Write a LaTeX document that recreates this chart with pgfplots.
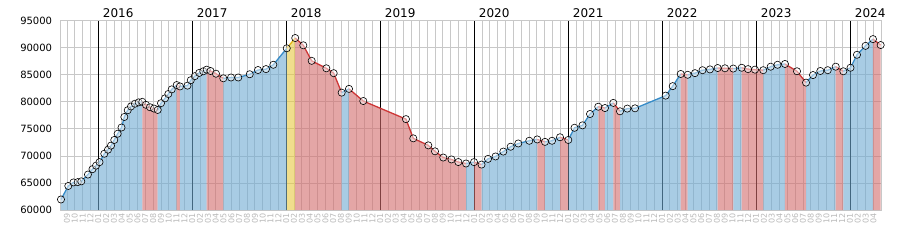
\documentclass[border=0pt]{standalone}
\usepackage{fontspec}
\setmainfont{DejaVu Sans}
\usepackage{pgfplots}
\usepackage{pgfplotstable}
\pgfplotsset{compat=1.18}
\definecolor{fillB}{RGB}{110,170,210}
\definecolor{fillR}{RGB}{210,107,107}
\definecolor{fillY}{RGB}{230,200,63}
\definecolor{lineB}{RGB}{55,140,200}
\definecolor{lineR}{RGB}{205,55,55}
\definecolor{lineY}{RGB}{225,180,20}
\definecolor{gridc}{RGB}{200,200,200}
\definecolor{monc}{RGB}{185,185,185}
\pgfplotstableread{
x y
2015.603 61950
2015.681 64450
2015.736 65100
2015.781 65150
2015.819 65300
2015.890 66550
2015.938 67550
2015.976 68200
2016.013 68850
2016.064 70400
2016.103 71150
2016.135 71900
2016.170 72950
2016.206 74100
2016.247 75250
2016.277 77200
2016.313 78450
2016.348 79150
2016.390 79650
2016.430 79900
2016.468 80000
2016.507 79450
2016.550 79000
2016.593 78750
2016.632 78500
2016.667 79750
2016.710 80650
2016.745 81450
2016.781 82300
2016.834 83100
2016.869 82850
2016.949 83000
2016.984 84000
2017.027 84750
2017.074 85350
2017.117 85650
2017.153 85950
2017.194 85700
2017.252 85200
2017.330 84350
2017.412 84500
2017.489 84500
2017.611 85100
2017.699 85880
2017.784 86050
2017.862 86850
2018.005 89900
2018.095 91800
2018.181 90450
2018.270 87580
2018.426 86200
2018.504 85300
2018.589 81700
2018.667 82400
2018.819 80150
2019.273 76800
2019.351 73250
2019.511 71950
2019.582 70850
2019.670 69700
2019.757 69350
2019.830 68870
2019.912 68600
2019.997 68850
2020.077 68400
2020.146 69450
2020.226 69900
2020.309 70800
2020.387 71700
2020.468 72300
2020.585 72800
2020.670 73050
2020.752 72600
2020.827 72800
2020.912 73450
2021.000 72950
2021.066 75200
2021.151 75650
2021.231 77750
2021.319 79100
2021.390 78850
2021.479 79800
2021.550 78250
2021.628 78750
2021.710 78800
2022.036 81150
2022.111 82900
2022.196 85150
2022.270 85000
2022.348 85300
2022.428 85850
2022.507 86000
2022.589 86250
2022.667 86200
2022.755 86150
2022.845 86300
2022.912 86050
2022.986 85950
2023.074 85850
2023.153 86500
2023.226 86850
2023.305 87000
2023.433 85650
2023.529 83550
2023.603 84950
2023.681 85700
2023.760 85850
2023.845 86500
2023.926 85650
2024.002 86300
2024.071 88700
2024.162 90350
2024.241 91600
2024.323 90500
}\data
\newcommand\fillrun[3]{\addplot[draw=none, fill=fill#1, fill opacity=0.6, forget plot] table[restrict x to domain=#2:#3]{\data} \closedcycle;}
\newcommand\linerun[3]{\addplot[draw=line#1, line width=1.3pt, forget plot] table[restrict x to domain=#2:#3]{\data};}
\newcommand\allruns[1]{%
#1{B}{2015.60}{2016.469}%
#1{R}{2016.467}{2016.633}%
#1{B}{2016.631}{2016.835}%
#1{R}{2016.833}{2016.870}%
#1{B}{2016.868}{2017.154}%
#1{R}{2017.152}{2017.331}%
#1{B}{2017.329}{2018.006}%
#1{Y}{2018.004}{2018.096}%
#1{R}{2018.094}{2018.590}%
#1{B}{2018.588}{2018.668}%
#1{R}{2018.666}{2019.913}%
#1{B}{2019.911}{2019.998}%
#1{R}{2019.996}{2020.078}%
#1{B}{2020.076}{2020.671}%
#1{R}{2020.669}{2020.753}%
#1{B}{2020.751}{2020.913}%
#1{R}{2020.911}{2021.001}%
#1{B}{2020.999}{2021.320}%
#1{R}{2021.318}{2021.391}%
#1{B}{2021.389}{2021.480}%
#1{R}{2021.478}{2021.551}%
#1{B}{2021.549}{2022.197}%
#1{R}{2022.195}{2022.271}%
#1{B}{2022.269}{2022.590}%
#1{R}{2022.588}{2022.756}%
#1{B}{2022.754}{2022.846}%
#1{R}{2022.844}{2023.075}%
#1{B}{2023.073}{2023.306}%
#1{R}{2023.304}{2023.530}%
#1{B}{2023.528}{2023.846}%
#1{R}{2023.844}{2023.927}%
#1{B}{2023.925}{2024.242}%
#1{R}{2024.240}{2024.330}%
}
\begin{document}
\begin{tikzpicture}
\useasboundingbox (0,0) rectangle (900pt,250pt);
\begin{axis}[
  at={(60pt,40pt)}, anchor=south west,
  width=821pt, height=189.3pt, scale only axis,
  xmin=2015.5926, xmax=2024.3266, ymin=60000, ymax=95000,
  ytick={60000,65000,...,95000},
  xtick={2015.66667,2015.75,...,2024.26},
  xticklabels={09,10,11,12,
    01,02,03,04,05,06,07,08,09,10,11,12,
    01,02,03,04,05,06,07,08,09,10,11,12,
    01,02,03,04,05,06,07,08,09,10,11,12,
    01,02,03,04,05,06,07,08,09,10,11,12,
    01,02,03,04,05,06,07,08,09,10,11,12,
    01,02,03,04,05,06,07,08,09,10,11,12,
    01,02,03,04,05,06,07,08,09,10,11,12,
    01,02,03,04,05,06,07,08,09,10,11,12,
    01,02,03,04},
  grid=major,
  major grid style={gridc, line width=0.8pt},
  major tick length=0pt,
  axis line style={gridc, line width=0.8pt},
  extra x ticks={2016,2017,2018,2019,2020,2021,2022,2023,2024},
  extra x tick labels={},
  extra x tick style={grid=major, major grid style={black, line width=0.8pt}},
  /pgf/number format/assume math mode=true,
  scaled y ticks=false,
  yticklabel style={font=\fontsize{10}{12}\selectfont, xshift=-4.4pt, /pgf/number format/.cd, fixed, 1000 sep={}},
  xticklabel style={font=\fontsize{8}{9}\selectfont, text=monc, rotate=90, anchor=east},
]
\allruns\fillrun
\allruns\linerun
\addplot[only marks, mark=*, mark size=3.6pt, mark options={draw=black, fill=white, fill opacity=0.5, line width=0.6pt}] table{\data};
\pgfplotsinvokeforeach{2016,2017,2018,2019,2020,2021,2022,2023,2024}{\coordinate (Y#1) at (axis cs:#1,95000);}
\end{axis}
\foreach \yr in {2016,2017,2018,2019,2020,2021,2022,2023,2024}
  \node[anchor=base west, font=\fontsize{12}{14}\selectfont, inner sep=0pt] at ([xshift=4.4pt, yshift=3.4pt]Y\yr) {\yr};
\end{tikzpicture}
\end{document}
